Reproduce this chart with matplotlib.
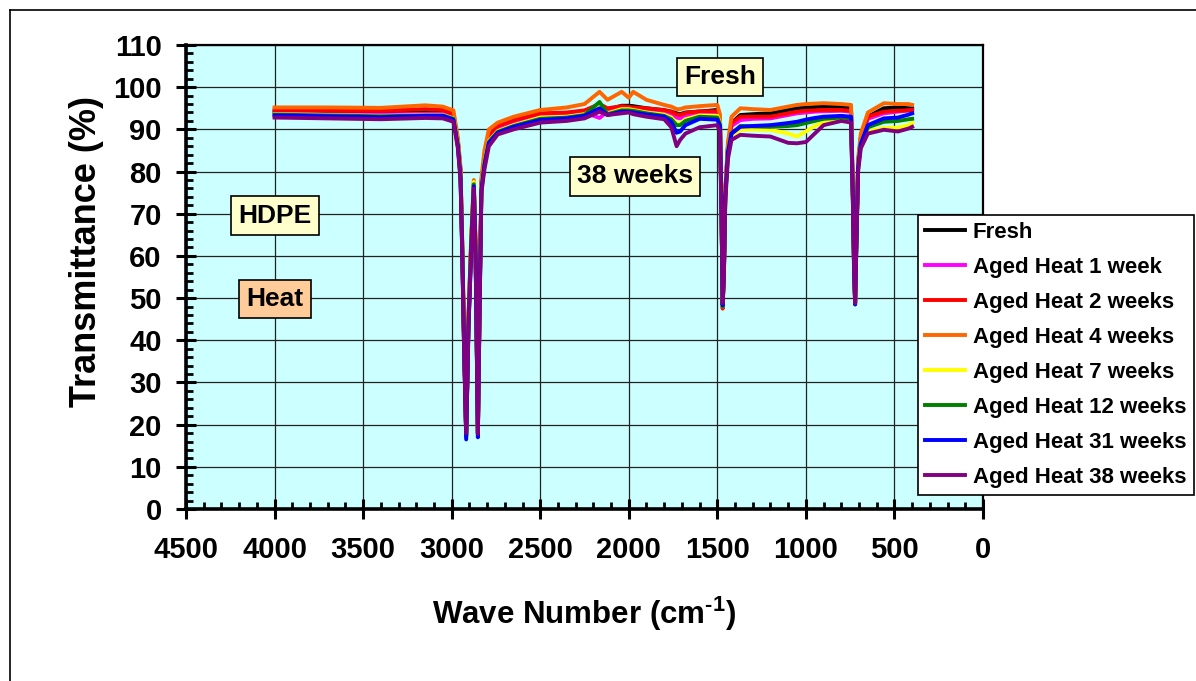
import matplotlib
matplotlib.use("Agg")
import matplotlib.pyplot as plt
from matplotlib.ticker import MultipleLocator
from matplotlib.lines import Line2D

plt.rcParams['font.family'] = ['Liberation Sans', 'DejaVu Sans']
plt.rcParams['font.weight'] = 'bold'
plt.rcParams['mathtext.fontset'] = 'custom'
plt.rcParams['mathtext.rm'] = 'Liberation Sans:bold'
plt.rcParams['mathtext.bf'] = 'Liberation Sans:bold'
plt.rcParams['mathtext.default'] = 'bf'

# ---------------- data ----------------
wavenumber = [4000, 3700, 3400, 3150, 3050,
              2990, 2965, 2950, 2940, 2930,
              2918, 2905, 2890, 2875, 2865,
              2852, 2842, 2832, 2815, 2790,
              2740, 2650, 2500, 2350, 2250,
              2165, 2120, 2040, 2000, 1975,
              1900, 1800, 1760, 1730, 1710,
              1680, 1600, 1500, 1485, 1476,
              1470, 1463, 1455, 1440, 1420,
              1370, 1300, 1200, 1100, 1050,
              1000, 950, 900, 800, 745,
              735, 728, 722, 716, 705,
              690, 650, 560, 480, 420, 400]

fresh = [94.2, 94.0, 93.8, 94.0, 94.0,
         93.2, 87, 80, 62, 40,
         17.5, 45, 63, 77, 62,
         18, 50, 77, 83, 88,
         90.3, 91.5, 93.2, 93.6, 94.2,
         95.5, 94.6, 95.6, 95.6, 95.5,
         95, 94.5, 94.2, 93.8, 93.6,
         94, 94.2, 94.6, 92.5, 70,
         48.5, 56, 75, 86, 91.5,
         93.4, 93.6, 93.8, 94.6, 95,
         95.2, 95.3, 95.4, 95.3, 95,
         75, 58, 49, 62, 82,
         88, 93, 95, 95.2, 95, 95]

heat_1wk = [93.8, 93.6, 93.5, 93.7, 93.7,
            92.9, 86.8, 79.5, 61, 39,
            17.5, 44, 62, 76.5, 61,
            18, 49, 76.5, 82.5, 87.5,
            90, 91.3, 93, 93.3, 94,
            92.7, 94.3, 95, 95, 94.8,
            94.5, 94, 93.5, 92.8, 92.6,
            93.2, 93.6, 93.8, 92, 70,
            48.5, 56, 75, 85.5, 90.8,
            92.2, 92.5, 92.6, 93.4, 93.8,
            94, 94.2, 94.3, 94.4, 94.2,
            75, 58, 49, 62, 82,
            87.5, 92.5, 93.8, 94.2, 94.5, 94.5]

heat_2wk = [94.6, 94.5, 94.4, 94.8, 94.6,
            93.6, 87.2, 80.5, 62, 40,
            17.5, 45, 63, 77.2, 62,
            18, 50, 77.5, 83.5, 88.5,
            90.8, 92.2, 93.8, 94, 94.5,
            96, 95, 95.5, 95.3, 95.2,
            95, 94.6, 94.2, 93.5, 93.4,
            93.9, 94.3, 94.3, 92, 70,
            47.5, 56, 75, 86, 91.5,
            93, 93, 93, 93.8, 94.2,
            94.4, 94.5, 94.6, 94.6, 94.4,
            75, 58, 49, 62, 82,
            88, 93, 94.2, 94.4, 94.5, 94.5]

heat_4wk = [95.2, 95.2, 95.1, 95.7, 95.4,
            94.5, 88, 81, 63, 41,
            18, 46, 64, 78, 63,
            18.5, 51, 78.5, 85, 90,
            91.6, 93, 94.6, 95.2, 96,
            98.9, 97, 98.9, 97.5, 98.9,
            97, 95.8, 95.4, 94.8, 94.8,
            95.2, 95.5, 95.8, 93.5, 71,
            49, 57, 76, 87, 93,
            95, 94.8, 94.6, 95.4, 95.8,
            96, 96.1, 96.2, 96, 95.8,
            76, 59, 49.5, 63, 83,
            89, 94, 96.2, 96, 96, 95.8]

heat_7wk = [93.6, 93.4, 93.2, 93.4, 93.4,
            92.6, 86.5, 79, 61, 39,
            17, 44, 62, 77.5, 61,
            17.5, 49, 76, 82, 87.2,
            89.6, 91, 92.8, 93, 93.6,
            95.5, 93.8, 94.8, 94.8, 94.6,
            94, 93.5, 92.8, 91.5, 91.4,
            92.4, 93.3, 93.2, 91.5, 69,
            48, 55.5, 74, 84.5, 88.5,
            89.9, 90, 89.9, 89, 88.3,
            89.5, 90.8, 91.6, 92, 91.8,
            74, 57, 48.5, 61, 81,
            86, 89.5, 90.3, 90.4, 91, 91.5]

heat_12wk = [93.5, 93.3, 93.1, 93.3, 93.3,
             92.5, 86.3, 79, 61, 39,
             17, 44, 62, 77, 61,
             17.5, 49, 76, 81.8, 87,
             89.4, 90.8, 92.5, 92.8, 93.4,
             96.5, 93.6, 94.5, 94.5, 94.4,
             93.8, 93.2, 92.4, 91, 91,
             92, 93, 92.8, 91.2, 69,
             48, 55.5, 74, 84.5, 89,
             90.8, 90.7, 90.6, 90.8, 91,
             91.5, 92, 92.5, 92.8, 92.6,
             74, 57, 48.5, 61, 81,
             86.5, 90.5, 91.8, 92, 92.4, 92.5]

heat_31wk = [93.3, 93.1, 92.9, 93.2, 93.2,
             92.3, 86, 78.5, 60, 38,
             16.5, 43, 61, 76.5, 60,
             17, 48, 75.5, 81.5, 86.8,
             89.2, 90.6, 92.2, 92.6, 93.2,
             95, 93.4, 94.2, 94.2, 94,
             93.5, 93, 91.8, 89.2, 89.5,
             91, 92.5, 92.3, 90.8, 69,
             48.3, 55.5, 74, 84.5, 89,
             90.6, 90.8, 91, 91.5, 91.8,
             92.3, 92.7, 93, 93.2, 93,
             74, 57, 48.5, 61, 81,
             86.5, 91, 92.6, 92.8, 93.5, 93.8]

heat_38wk = [92.8, 92.6, 92.4, 92.7, 92.6,
             91.8, 85.5, 78, 60, 38,
             18, 43, 61, 76, 60,
             17.8, 48, 75, 80.5, 86,
             88.8, 90, 91.6, 92, 92.6,
             94.2, 93.4, 93.8, 94, 93.6,
             93, 92.4, 90.5, 86, 87.5,
             89, 90.5, 91, 89.5, 68,
             48.8, 55, 73, 83, 87.5,
             88.7, 88.5, 88.3, 86.8, 86.7,
             87, 89, 91, 92, 91.6,
             73, 56, 48.8, 60, 80,
             85.5, 89, 89.9, 89.5, 90.2, 90.6]

series_labels = ["Fresh", "Aged Heat 1 week", "Aged Heat 2 weeks", "Aged Heat 4 weeks",
                 "Aged Heat 7 weeks", "Aged Heat 12 weeks", "Aged Heat 31 weeks",
                 "Aged Heat 38 weeks"]
series_values = [fresh, heat_1wk, heat_2wk, heat_4wk, heat_7wk, heat_12wk, heat_31wk, heat_38wk]
series_colors = ["#000000", "#FF00FF", "#FF0000", "#FF6600", "#FFFF00", "#008000",
                 "#0000FF", "#800080"]

x_ticks = [4500, 4000, 3500, 3000, 2500, 2000, 1500, 1000, 500, 0]
y_ticks = [0, 10, 20, 30, 40, 50, 60, 70, 80, 90, 100, 110]

# ---------------- figure ----------------
W, H = 1196, 681
fig = plt.figure(figsize=(W / 100, H / 100), dpi=100)
fig.patch.set_facecolor("white")

ax = fig.add_axes([186 / W, 1 - 509 / H, (983 - 186) / W, (509 - 45) / H])
ax.set_facecolor("#CCFFFF")

for vals, col, lab in zip(series_values, series_colors, series_labels):
    ax.plot(wavenumber, vals, color=col, lw=2.8, label=lab, solid_joinstyle="round")

ax.set_xlim(4500, 0)
ax.set_ylim(0, 110)
ax.set_xticks(x_ticks)
ax.set_yticks(y_ticks)
ax.xaxis.set_minor_locator(MultipleLocator(100))
ax.yaxis.set_minor_locator(MultipleLocator(2))
ax.grid(True, which="major", color="#222222", lw=0.9)
ax.set_axisbelow(True)

for s in ["left", "bottom"]:
    ax.spines[s].set_linewidth(2.6)
for s in ["top", "right"]:
    ax.spines[s].set_linewidth(1.6)

ax.tick_params(axis="both", which="major", direction="inout", length=15, width=2.2,
               labelsize=21)
ax.tick_params(axis="both", which="minor", direction="in", length=5, width=2)
ax.tick_params(axis="x", which="major", pad=12)
ax.tick_params(axis="y", which="major", pad=10)
for t in ax.get_xticklabels() + ax.get_yticklabels():
    t.set_fontweight("bold")

ax.set_xlabel("Wave Number (cm$^{\\text{-1}}$)", fontsize=22.5, fontweight="bold", labelpad=22)
ax.set_ylabel("Transmittance (%)", fontsize=26, fontweight="bold")
ax.yaxis.set_label_coords(-0.103, 0.554)

box_y = dict(boxstyle="square,pad=0.28", facecolor="#FFFFCC", edgecolor="black", lw=1.2)
box_o = dict(boxstyle="square,pad=0.28", facecolor="#FFCC99", edgecolor="black", lw=1.2)
ax.text(1485, 102.4, "Fresh", fontsize=19, fontweight="bold", ha="center", va="center", bbox=box_y)
ax.text(1965, 78.9, "38 weeks", fontsize=19, fontweight="bold", ha="center", va="center", bbox=box_y)
ax.text(4000, 69.5, "HDPE", fontsize=19, fontweight="bold", ha="center", va="center", bbox=box_y)
ax.text(4000, 49.8, "Heat", fontsize=19, fontweight="bold", ha="center", va="center", bbox=box_o)

leg = ax.legend(loc="upper left", bbox_to_anchor=(918 / W, 1 - 215 / H),
                bbox_transform=fig.transFigure, fontsize=16, frameon=True,
                fancybox=False, edgecolor="black", framealpha=1, borderaxespad=0,
                handlelength=1.8, handletextpad=0.35, labelspacing=0.63,
                borderpad=0.32)
leg.get_frame().set_linewidth(1.2)
for t in leg.get_texts():
    t.set_fontweight("bold")

# outer chart border
fig.add_artist(Line2D([10 / W, 10 / W], [0, 1 - 10 / H], color="black", lw=1.2,
                      transform=fig.transFigure))
fig.add_artist(Line2D([10 / W, 1], [1 - 10 / H, 1 - 10 / H], color="black", lw=1.2,
                      transform=fig.transFigure))

fig.savefig("out.png", dpi=100)
